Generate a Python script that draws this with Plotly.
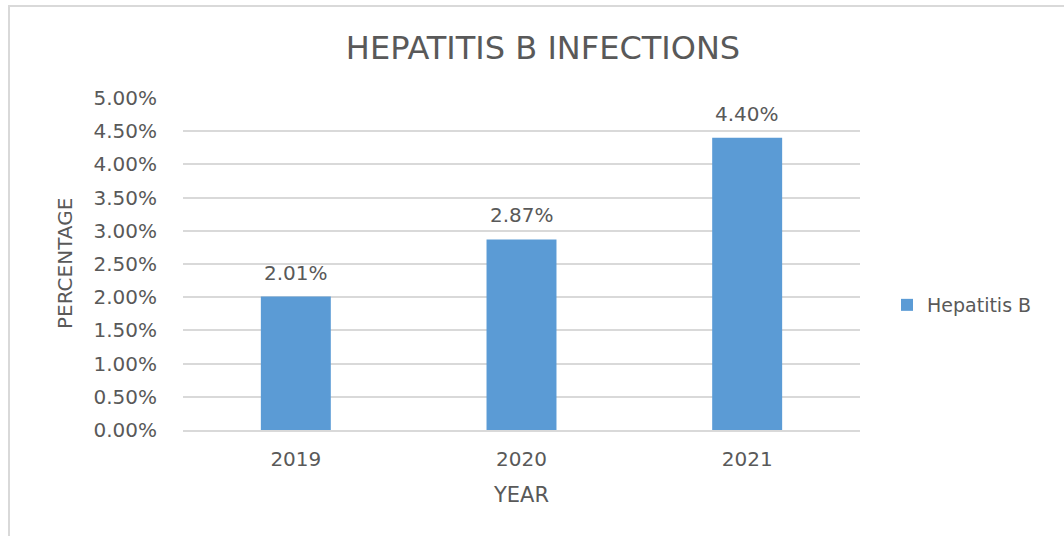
import plotly.graph_objects as go

years = ["2019", "2020", "2021"]
values = [0.0201, 0.0287, 0.0440]
labels = ["2.01%", "2.87%", "4.40%"]
tick_vals = [0, 0.005, 0.01, 0.015, 0.02, 0.025, 0.03, 0.035, 0.04, 0.045, 0.05]

L, R, T, B = 183, 204, 98, 106
W, H = 1064, 536
pw, ph = W - L - R, H - T - B

def px(x):
    return (x - L) / pw

def py(y):
    return (H - B - y) / ph

FONT = "DejaVu Sans"
GREY = "#595959"

fig = go.Figure()
fig.add_trace(go.Bar(
    x=years, y=values, name="Hepatitis B",
    marker=dict(color="#5b9bd5", line=dict(width=0)),
))

label_annotations = [
    dict(text=t, x=i, y=v, xref="x", yref="y", showarrow=False,
         xanchor="center", yanchor="bottom", yshift=10,
         font=dict(family=FONT, size=20, color=GREY))
    for i, (v, t) in enumerate(zip(values, labels))
]

fig.update_layout(
    width=W, height=H,
    margin=dict(l=L, r=R, t=T, b=B),
    paper_bgcolor="white", plot_bgcolor="white",
    bargap=0.69,
    showlegend=True,
    legend=dict(x=px(887), y=py(305), xanchor="left", yanchor="middle",
                font=dict(family=FONT, size=19, color=GREY), itemwidth=30),
    title=dict(text="HEPATITIS B INFECTIONS", x=px(543), xanchor="center",
               xref="paper", y=1 - 48 / H, yanchor="middle",
               font=dict(family=FONT, size=32, color=GREY)),
    xaxis=dict(type="category", categoryorder="array", categoryarray=years,
               showgrid=False, showline=True,
               linecolor="#d9d9d9", linewidth=2,
               tickfont=dict(family=FONT, size=20, color=GREY), ticks="",
               ticklabelstandoff=10),
    yaxis=dict(range=[0, 0.05], tickvals=tick_vals, tickformat=".2%",
               showgrid=True, gridcolor="#d9d9d9", gridwidth=1.5,
               zeroline=False, showline=False, ticks="",
               tickfont=dict(family=FONT, size=20, color=GREY),
               ticklabelstandoff=25),
    annotations=label_annotations + [
        dict(text="PERCENTAGE", x=px(65), y=py(264), xref="paper", yref="paper",
             textangle=-90, showarrow=False, xanchor="center", yanchor="middle",
             font=dict(family=FONT, size=20, color=GREY)),
        dict(text="YEAR", x=px(521), y=py(495), xref="paper", yref="paper",
             showarrow=False, xanchor="center", yanchor="middle",
             font=dict(family=FONT, size=21, color=GREY)),
    ],
    shapes=[
        dict(type="rect", xref="paper", yref="paper",
             x0=px(9), x1=px(1080), y0=py(560), y1=py(6),
             line=dict(color="#d9d9d9", width=2), fillcolor="rgba(0,0,0,0)",
             layer="below"),
    ],
)

fig.write_html("out.html")
